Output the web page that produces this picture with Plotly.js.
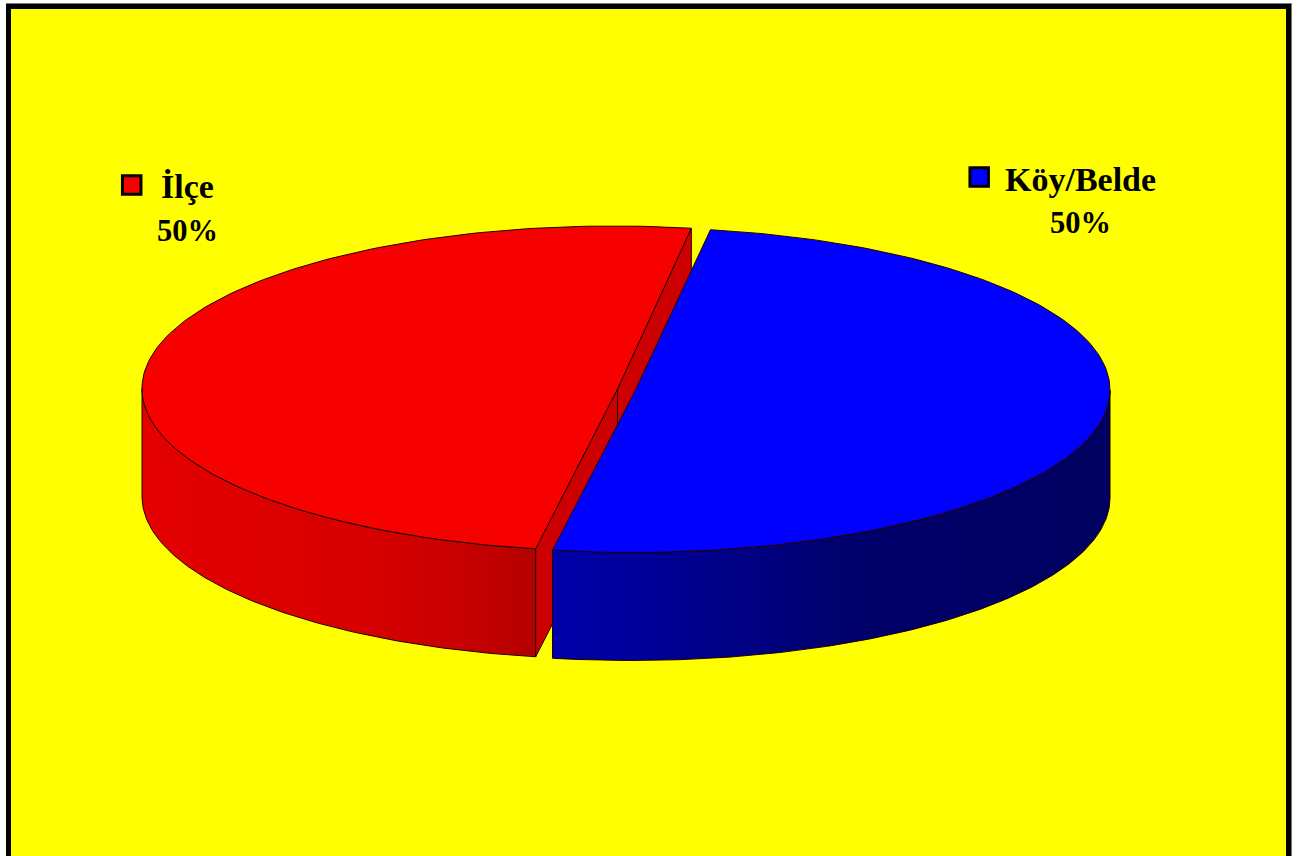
<!DOCTYPE html>
<html><head><meta charset="utf-8">
<script src="https://cdn.plot.ly/plotly-3.0.1.min.js"></script>
<style>html,body{margin:0;padding:0;background:#fff;overflow:hidden}#c{width:1303px;height:856px}</style>
</head><body><div id="c"></div>
<script>
const categories = ["İlçe", "Köy/Belde"];
const shares = [50, 50];
const labels = ["50%", "50%"];
const topColors = ["#F60000", "#0000FF"];
const cutColor = "#CC0000";
const wallScales = [
  [[0, "#E40000"], [0.55, "#D80000"], [0.8, "#C80000"], [1, "#B40000"]],
  [[0, "#0000AC"], [0.55, "#00006A"], [1, "#000060"]]
];

const centers = [[613.5, 388.5], [631.5, 390]];
const apexes = [[617.5, 389], [635, 391]];
const radiiX = [471.5, 478.5];
const radiusY = 162.5, depth = 108, startDeg = 80.5;

function rim(i, deg, drop) {
  const t = deg * Math.PI / 180;
  return [centers[i][0] + radiiX[i] * Math.cos(t), centers[i][1] - radiusY * Math.sin(t) + (drop || 0)];
}
function arc(i, a0, a1, drop) {
  const n = 160, pts = [];
  for (let k = 0; k <= n; k++) pts.push(rim(i, a0 + (a1 - a0) * k / n, drop));
  return pts;
}
function poly(pts, color, scale) {
  const tr = {
    type: "scatter", mode: "lines", hoverinfo: "skip", showlegend: false, fill: "toself",
    x: pts.map(p => p[0]), y: pts.map(p => p[1]),
    line: {color: "#200000", width: 1}
  };
  if (scale) tr.fillgradient = {type: "horizontal", colorscale: scale};
  else tr.fillcolor = color;
  return tr;
}
const total = shares.reduce((a, b) => a + b, 0);
const sweep = shares.map(v => v / total * 360);
const traces = [];
const a0 = startDeg, a1 = startDeg + sweep[0], a2 = a1 + sweep[1];

// first slice: wall, cut faces, top
traces.push(poly(arc(0, 180, a1, 0).concat(arc(0, a1, 180, depth)).concat([rim(0, 180, 0)]), null, wallScales[0]));
const ap = apexes[0], topEnd = rim(0, a0, 0), botEnd = rim(0, a1, 0);
traces.push(poly([topEnd, ap, [ap[0], ap[1] + depth], [topEnd[0], topEnd[1] + depth], topEnd], cutColor));
traces.push(poly([ap, botEnd, [botEnd[0], botEnd[1] + depth], [ap[0], ap[1] + depth], ap], cutColor));
traces.push(poly(arc(0, a0, a1, 0).concat([ap, rim(0, a0, 0)]), topColors[0]));
// second slice: wall, top
traces.push(poly(arc(1, a1, 360, 0).concat(arc(1, 360, a1, depth)).concat([rim(1, a1, 0)]), null, wallScales[1]));
traces.push(poly(arc(1, a1, a2, 0).concat([apexes[1], rim(1, a1, 0)]), topColors[1]));

// legend keys
const keyX = [131.7, 979.2], keyY = [185, 177];
categories.forEach((name, i) => traces.push({
  type: "scatter", mode: "markers", hoverinfo: "skip", showlegend: false,
  x: [keyX[i]], y: [keyY[i]],
  marker: {symbol: "square", size: 18.5, color: topColors[i], line: {color: "#000", width: 3}}
}));

const family = "Liberation Serif, serif";
const nameX = [187, 1080.5], pctX = [187, 1080.5], nameY = [186, 179], pctY = [231, 223];
const annotations = [];
categories.forEach((name, i) => {
  annotations.push({x: nameX[i], y: nameY[i], xref: "x", yref: "y", text: "<b>" + name + "</b>", showarrow: false, font: {family, size: 34, color: "#000"}});
  annotations.push({x: pctX[i], y: pctY[i], xref: "x", yref: "y", text: "<b>" + labels[i] + "</b>", showarrow: false, font: {family, size: 30.5, color: "#000"}});
});

const shapes = [
  {type: "rect", layer: "below", x0: 8.5, x1: 1288.5, y0: 6.5, y1: 880, fillcolor: "#FFFF00", line: {color: "#000", width: 5}},
  {type: "line", layer: "below", x0: 6, x1: 1292, y0: 3.5, y1: 3.5, line: {color: "#777", width: 1}},
  {type: "line", layer: "below", x0: 1291.5, x1: 1291.5, y0: 3, y1: 856, line: {color: "#777", width: 1}}
];

Plotly.newPlot("c", traces, {
  width: 1303, height: 856, margin: {l: 0, r: 0, t: 0, b: 0},
  paper_bgcolor: "#fff", plot_bgcolor: "#fff",
  xaxis: {range: [0, 1303], visible: false, fixedrange: true},
  yaxis: {range: [856, 0], visible: false, fixedrange: true},
  shapes, annotations
}, {displayModeBar: false, staticPlot: true});
</script></body></html>
